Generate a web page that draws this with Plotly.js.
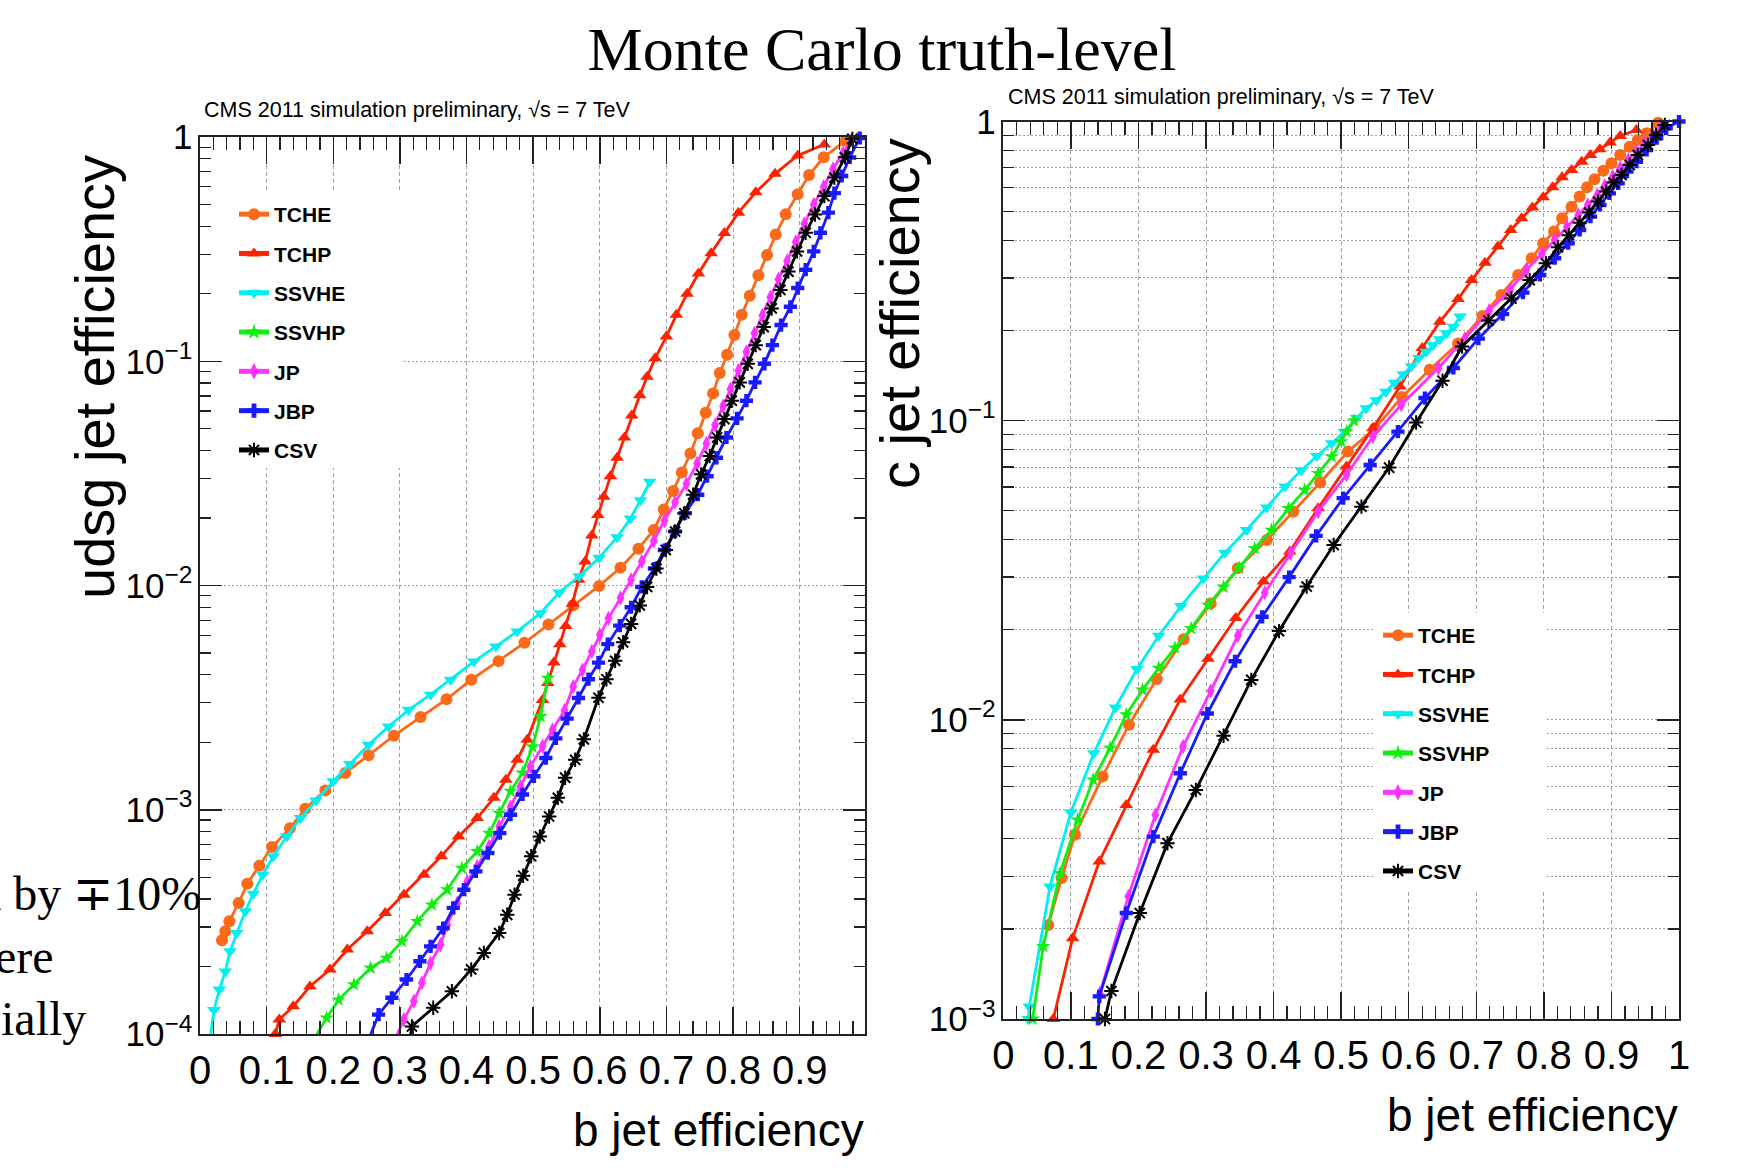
<!DOCTYPE html>
<html><head><meta charset="utf-8">
<script src="https://cdn.plot.ly/plotly-3.0.1.min.js"></script>
<style>html,body{margin:0;padding:0;background:#fff;} #chart{width:1750px;height:1172px;}</style>
</head><body><div id="chart"></div>
<script>
// ---------------- DATA ----------------
const taggers = ['TCHE','TCHP','SSVHE','SSVHP','JP','JBP','CSV'];

// udsg mistag vs b efficiency (left panel)
const udsgTCHE_b   = [0.033,0.038,0.044,0.058,0.071,0.089,0.108,0.135,0.158,0.188,0.218,0.253,0.291,0.331,0.370,0.407,0.448,0.487,0.523,0.560,0.599,0.631,0.658,0.681,0.696,0.710,0.723,0.736,0.747,0.759,0.770,0.780,0.791,0.802,0.813,0.825,0.838,0.851,0.864,0.879,0.897,0.914,0.936,0.969];
const udsgTCHE_eff = [2.62e-4,2.87e-4,3.18e-4,3.84e-4,4.68e-4,5.63e-4,6.82e-4,8.28e-4,1.01e-3,1.22e-3,1.46e-3,1.75e-3,2.14e-3,2.59e-3,3.11e-3,3.80e-3,4.60e-3,5.55e-3,6.70e-3,8.14e-3,9.96e-3,0.0120,0.0146,0.0177,0.0218,0.0264,0.0319,0.0388,0.0478,0.0589,0.0719,0.0886,0.107,0.131,0.161,0.196,0.242,0.298,0.367,0.452,0.556,0.677,0.812,0.963];

const udsgTCHP_b   = [0.113,0.119,0.140,0.165,0.195,0.221,0.251,0.278,0.306,0.336,0.362,0.388,0.416,0.441,0.459,0.476,0.491,0.514,0.522,0.531,0.540,0.549,0.559,0.568,0.578,0.588,0.597,0.606,0.616,0.626,0.637,0.648,0.660,0.671,0.683,0.700,0.715,0.731,0.748,0.767,0.787,0.808,0.834,0.863,0.897,0.937];
const udsgTCHP_eff = [1.0e-4,1.16e-4,1.33e-4,1.63e-4,1.94e-4,2.38e-4,2.87e-4,3.46e-4,4.18e-4,5.13e-4,6.20e-4,7.60e-4,9.18e-4,1.13e-3,1.36e-3,1.67e-3,2.05e-3,3.09e-3,3.67e-3,4.53e-3,5.47e-3,6.6e-3,8.3e-3,0.0106,0.0128,0.0167,0.0206,0.0249,0.0307,0.0371,0.0457,0.0573,0.0706,0.0853,0.103,0.129,0.161,0.200,0.246,0.303,0.373,0.460,0.567,0.685,0.828,0.927];

const udsgSSVHE_b   = [0.016,0.021,0.029,0.038,0.045,0.055,0.068,0.080,0.094,0.110,0.130,0.151,0.174,0.200,0.225,0.253,0.283,0.313,0.346,0.376,0.411,0.444,0.476,0.511,0.539,0.569,0.599,0.626,0.646,0.661,0.675];
const udsgSSVHE_eff = [9.93e-5,1.28e-4,1.58e-4,1.90e-4,2.34e-4,2.82e-4,3.53e-4,4.22e-4,5.13e-4,6.19e-4,7.60e-4,9.18e-4,1.10e-3,1.34e-3,1.60e-3,1.95e-3,2.35e-3,2.79e-3,3.26e-3,3.80e-3,4.58e-3,5.35e-3,6.24e-3,7.53e-3,9.31e-3,0.0110,0.0133,0.0164,0.0199,0.0240,0.0290];

const udsgSSVHP_b   = [0.175,0.190,0.208,0.231,0.256,0.280,0.303,0.326,0.348,0.371,0.393,0.416,0.434,0.449,0.466,0.484,0.499,0.511,0.522];
const udsgSSVHP_eff = [9.93e-5,1.18e-4,1.42e-4,1.66e-4,1.97e-4,2.18e-4,2.59e-4,3.18e-4,3.77e-4,4.40e-4,5.49e-4,6.52e-4,7.87e-4,9.67e-4,1.21e-3,1.46e-3,1.91e-3,2.61e-3,3.86e-3];

const udsgJP_b   = [0.296,0.306,0.321,0.333,0.346,0.361,0.371,0.386,0.401,0.416,0.434,0.449,0.466,0.481,0.496,0.514,0.529,0.547,0.560,0.574,0.588,0.600,0.613,0.631,0.647,0.663,0.681,0.697,0.713,0.730,0.746,0.760,0.773,0.785,0.796,0.808,0.820,0.832,0.844,0.856,0.868,0.881,0.894,0.907,0.921,0.936,0.950,0.965,0.978];
const udsgJP_eff = [9.93e-5,1.16e-4,1.40e-4,1.69e-4,2.07e-4,2.50e-4,3.07e-4,3.83e-4,4.79e-4,5.59e-4,6.87e-4,8.43e-4,1.03e-3,1.27e-3,1.56e-3,1.92e-3,2.27e-3,2.77e-3,3.54e-3,4.20e-3,5.08e-3,6.02e-3,7.14e-3,8.79e-3,0.0106,0.0128,0.0158,0.0195,0.0235,0.0284,0.0350,0.043,0.052,0.063,0.075,0.091,0.110,0.133,0.160,0.193,0.232,0.28,0.34,0.41,0.50,0.60,0.72,0.85,0.97];

const udsgJBP_b   = [0.256,0.268,0.288,0.310,0.330,0.346,0.365,0.380,0.396,0.414,0.432,0.450,0.466,0.484,0.501,0.519,0.534,0.551,0.568,0.583,0.598,0.612,0.630,0.647,0.663,0.682,0.697,0.713,0.728,0.747,0.761,0.775,0.790,0.806,0.820,0.833,0.847,0.859,0.872,0.886,0.897,0.909,0.921,0.931,0.943,0.952,0.963,0.975,0.990];
const udsgJBP_eff = [9.93e-5,1.22e-4,1.45e-4,1.75e-4,2.11e-4,2.46e-4,2.97e-4,3.65e-4,4.40e-4,5.31e-4,6.41e-4,7.87e-4,9.50e-4,1.17e-3,1.41e-3,1.70e-3,2.08e-3,2.55e-3,3.15e-3,3.82e-3,4.53e-3,5.48e-3,6.62e-3,8.00e-3,9.85e-3,0.0119,0.0144,0.0174,0.0210,0.0254,0.0307,0.0371,0.0457,0.0556,0.0667,0.0805,0.0974,0.118,0.145,0.175,0.212,0.256,0.309,0.374,0.460,0.562,0.67,0.81,0.99];

const udsgCSV_b   = [0.316,0.318,0.350,0.378,0.407,0.426,0.449,0.461,0.472,0.485,0.497,0.510,0.524,0.537,0.548,0.563,0.576,0.598,0.610,0.623,0.635,0.647,0.660,0.671,0.685,0.699,0.713,0.727,0.740,0.752,0.765,0.776,0.787,0.798,0.810,0.822,0.834,0.846,0.858,0.871,0.883,0.896,0.909,0.923,0.937,0.952,0.968,0.979];
const udsgCSV_eff = [9.93e-5,1.08e-4,1.31e-4,1.55e-4,1.94e-4,2.30e-4,2.82e-4,3.40e-4,4.18e-4,5.08e-4,6.20e-4,7.60e-4,9.33e-4,1.13e-3,1.39e-3,1.67e-3,2.06e-3,3.16e-3,3.82e-3,4.62e-3,5.58e-3,6.74e-3,8.15e-3,9.85e-3,0.0119,0.0144,0.0174,0.0210,0.0254,0.0313,0.0378,0.0457,0.0552,0.0667,0.0805,0.0974,0.118,0.142,0.172,0.208,0.251,0.309,0.374,0.451,0.545,0.659,0.812,0.981];

// c mistag vs b efficiency (right panel)
const cTCHE_b   = [0.0666,0.0863,0.106,0.147,0.186,0.227,0.267,0.307,0.347,0.390,0.429,0.469,0.510,0.550,0.590,0.631,0.673,0.709,0.737,0.762,0.782,0.799,0.815,0.827,0.841,0.853,0.864,0.875,0.888,0.900,0.913,0.927,0.939,0.952,0.969];
const cTCHE_eff = [0.00206,0.00296,0.00413,0.00647,0.00963,0.0137,0.0186,0.0245,0.0321,0.0399,0.0496,0.0621,0.0788,0.0943,0.120,0.148,0.181,0.224,0.263,0.307,0.349,0.392,0.429,0.475,0.519,0.561,0.603,0.641,0.685,0.725,0.773,0.824,0.867,0.913,0.99];

const cTCHP_b   = [0.074,0.1026,0.142,0.182,0.222,0.262,0.303,0.344,0.385,0.424,0.466,0.508,0.547,0.587,0.620,0.646,0.673,0.693,0.713,0.732,0.751,0.767,0.783,0.799,0.813,0.827,0.841,0.856,0.869,0.883,0.898,0.913,0.937];
const cTCHP_eff = [0.001,0.00186,0.00336,0.00519,0.00794,0.0117,0.0160,0.0219,0.0290,0.0365,0.0510,0.0703,0.0944,0.130,0.175,0.214,0.255,0.295,0.337,0.382,0.434,0.475,0.516,0.558,0.603,0.651,0.689,0.734,0.773,0.807,0.850,0.895,0.937];

const cSSVHE_b   = [0.037,0.0385,0.069,0.100,0.134,0.166,0.198,0.230,0.263,0.296,0.328,0.360,0.390,0.417,0.441,0.464,0.486,0.505,0.523,0.537,0.552,0.566,0.579,0.592,0.604,0.615,0.626,0.636,0.646,0.656,0.666,0.676];
const cSSVHE_eff = [0.00100,0.00110,0.00277,0.00490,0.00773,0.0110,0.0148,0.0191,0.0240,0.0297,0.0362,0.0431,0.0513,0.0602,0.0681,0.0762,0.0840,0.0918,0.102,0.110,0.117,0.125,0.134,0.143,0.152,0.162,0.170,0.179,0.187,0.196,0.206,0.223];

const cSSVHP_b   = [0.0434,0.0592,0.0839,0.110,0.133,0.158,0.182,0.206,0.230,0.254,0.278,0.303,0.326,0.349,0.372,0.397,0.422,0.446,0.466,0.486,0.500,0.508,0.519];
const cSSVHP_eff = [0.00100,0.00175,0.00307,0.00463,0.00630,0.00805,0.0104,0.0126,0.0149,0.0174,0.0202,0.0242,0.0278,0.0322,0.0374,0.0431,0.0509,0.0586,0.0667,0.0758,0.0851,0.0919,0.100];

const cJP_b   = [0.143,0.185,0.225,0.266,0.307,0.347,0.387,0.425,0.466,0.508,0.547,0.589,0.644,0.683,0.719,0.750,0.774,0.797,0.816,0.834,0.851,0.865,0.879,0.890,0.902,0.913,0.925,0.937,0.949,0.962,0.974];
const cJP_eff = [0.00122,0.00257,0.00481,0.00814,0.0125,0.0191,0.0266,0.0360,0.0497,0.0659,0.0885,0.113,0.150,0.188,0.233,0.274,0.319,0.361,0.402,0.445,0.487,0.526,0.568,0.609,0.654,0.698,0.744,0.793,0.846,0.902,0.962];

const cJBP_b   = [0.140,0.142,0.182,0.222,0.262,0.302,0.343,0.383,0.423,0.463,0.503,0.543,0.584,0.624,0.666,0.703,0.739,0.769,0.794,0.816,0.836,0.853,0.869,0.883,0.897,0.910,0.923,0.937,0.952,0.967,0.981,1.0];
const cJBP_eff = [0.00100,0.00119,0.00226,0.00407,0.00663,0.0105,0.0157,0.0221,0.0300,0.0412,0.0551,0.0711,0.0919,0.119,0.150,0.188,0.227,0.268,0.307,0.349,0.392,0.434,0.481,0.526,0.575,0.621,0.680,0.734,0.803,0.879,0.949,1.0];

const cCSV_b   = [0.1504,0.160,0.202,0.243,0.285,0.326,0.367,0.408,0.449,0.489,0.530,0.571,0.611,0.650,0.679,0.718,0.752,0.779,0.803,0.821,0.837,0.853,0.867,0.880,0.892,0.903,0.915,0.927,0.939,0.954,0.966,0.979];
const cCSV_eff = [0.00100,0.00124,0.00226,0.00387,0.00583,0.00885,0.0136,0.0198,0.0279,0.0384,0.0516,0.0697,0.0986,0.136,0.177,0.216,0.256,0.295,0.336,0.380,0.417,0.459,0.496,0.540,0.583,0.625,0.663,0.716,0.773,0.834,0.901,0.973];

// ---------------- STYLE ----------------
const SANS = '"Liberation Sans", Arial, Helvetica, sans-serif';
const SERIF = '"Liberation Serif", "Times New Roman", serif';
const style = {
  TCHE:  {color:'#fb6a1a', symbol:'circle', size:12},
  TCHP:  {color:'#ff2200', symbol:'triangle-up', size:12},
  SSVHE: {color:'#00f0f0', symbol:'triangle-down', size:12},
  SSVHP: {color:'#11ee11', symbol:'star', size:11},
  JP:    {color:'#ff33ff', symbol:'diamond-tall', size:11},
  JBP:   {color:'#1a1aff', symbol:'cross', size:11},
  CSV:   {color:'#000000', symbol:'asterisk-open', size:12}
};

const udsgData = {TCHE:[udsgTCHE_b,udsgTCHE_eff], TCHP:[udsgTCHP_b,udsgTCHP_eff], SSVHE:[udsgSSVHE_b,udsgSSVHE_eff], SSVHP:[udsgSSVHP_b,udsgSSVHP_eff], JP:[udsgJP_b,udsgJP_eff], JBP:[udsgJBP_b,udsgJBP_eff], CSV:[udsgCSV_b,udsgCSV_eff]};
const cData = {TCHE:[cTCHE_b,cTCHE_eff], TCHP:[cTCHP_b,cTCHP_eff], SSVHE:[cSSVHE_b,cSSVHE_eff], SSVHP:[cSSVHP_b,cSSVHP_eff], JP:[cJP_b,cJP_eff], JBP:[cJBP_b,cJBP_eff], CSV:[cCSV_b,cCSV_eff]};

function mk(name, d, xa, ya, leg, grpPrefix){
  const s = style[name];
  return {
    type:'scatter', mode:'lines+markers', name:name,
    x:d[0], y:d[1], xaxis:xa, yaxis:ya, legend:leg,
    legendgroup: grpPrefix+name, cliponaxis:false,
    line:{color:s.color, width:2.8},
    marker:{symbol:s.symbol, size:s.size, color:s.color,
            line:{color:s.color, width: name==='CSV'?2:0}}
  };
}
const traces = [];
taggers.forEach(t => traces.push(mk(t, udsgData[t], 'x', 'y', 'legend', 'u')));
taggers.forEach(t => traces.push(mk(t, cData[t], 'x2', 'y2', 'legend2', 'c')));

const W = 1750, H = 1172;
const px = v => v / W;
const py = v => 1 - v / H;

function xaxisCfg(domain, rng, anchor){
  return {
    domain: domain, range: rng, anchor: anchor, tick0:0, dtick:0.1,
    ticks:'inside', ticklen:27, tickwidth:1.5, tickcolor:'#222',
    mirror:'allticks', showline:true, linewidth:2, linecolor:'#222',
    showgrid:true, gridcolor:'#a0a0a0', gridwidth:1, griddash:'4px,3px',
    zeroline:false, ticklabelstandoff:0,
    tickfont:{family:SANS, size:40, color:'#000'},
    minor:{dtick:0.02, ticks:'inside', ticklen:13, tickwidth:1.2, tickcolor:'#222', showgrid:false}
  };
}
function yaxisCfg(domain, rng, anchor, minorGrid){
  return {
    type:'log', domain: domain, range: rng, anchor: anchor, dtick:1,
    exponentformat:'power',
    ticks:'inside', ticklen:22, tickwidth:1.5, tickcolor:'#222',
    mirror:'allticks', showline:true, linewidth:2, linecolor:'#222',
    showgrid:true, gridcolor:'#a0a0a0', gridwidth:1, griddash:'2px,2px',
    zeroline:false, ticklabelstandoff:0,
    tickfont:{family:SANS, size:28, color:'#000'},
    minor:{dtick:'D1', ticks:'inside', ticklen:11, tickwidth:1.2, tickcolor:'#222',
           showgrid:minorGrid, gridcolor:'#a0a0a0', gridwidth:1, griddash:'2px,2px'}
  };
}

const legFont = {family:SANS, size:21, color:'#000', weight:'bold'};

const layout = {
  width: W, height: H,
  margin:{l:0, r:0, t:0, b:0},
  paper_bgcolor:'#fff', plot_bgcolor:'#fff',
  title:{text:'Monte Carlo truth-level', font:{family:SERIF, size:62, color:'#000'},
         xref:'paper', yref:'container', x:px(882), xanchor:'center', y:py(48), yanchor:'middle'},
  xaxis: xaxisCfg([px(200), px(865)], [0, 0.998], 'y'),
  yaxis: yaxisCfg([py(1034), py(137)], [-4, 0], 'x', false),
  xaxis2: xaxisCfg([px(1003.3), px(1679)], [0, 1], 'y2'),
  yaxis2: yaxisCfg([py(1019), py(121.5)], [-3, 0], 'x2', true),
  legend:{x:px(234), xanchor:'left', y:py(194), yanchor:'top', bgcolor:'rgba(0,0,0,0)',
          font:legFont, traceorder:'grouped', tracegroupgap:9, itemsizing:'constant'},
  legend2:{x:px(1378), xanchor:'left', y:py(615), yanchor:'top', bgcolor:'rgba(0,0,0,0)',
          font:legFont, traceorder:'grouped', tracegroupgap:9, itemsizing:'constant'},
  shapes:[
    {type:'rect', xref:'x', yref:'y', x0:0.002, x1:0.304, y0:0.0334, y1:0.570,
     fillcolor:'#fff', line:{width:0}, layer:'between'},
    {type:'rect', xref:'x2', yref:'y2', x0:0.5486, x1:0.8017, y0:0.00272, y1:0.0228,
     fillcolor:'#fff', line:{width:0}, layer:'between'}
  ],
  annotations:[
    {text:'CMS 2011 simulation preliminary, √s = 7 TeV', xref:'paper', yref:'paper',
     x:px(202), y:py(110), xanchor:'left', yanchor:'middle', showarrow:false,
     font:{family:SANS, size:21.5, color:'#000'}},
    {text:'CMS 2011 simulation preliminary, √s = 7 TeV', xref:'paper', yref:'paper',
     x:px(1006), y:py(97), xanchor:'left', yanchor:'middle', showarrow:false,
     font:{family:SANS, size:21.5, color:'#000'}},
    {text:'udsg jet efficiency', xref:'paper', yref:'paper', textangle:-90,
     x:px(95), y:py(377), xanchor:'center', yanchor:'middle', showarrow:false,
     font:{family:SANS, size:56, color:'#000'}},
    {text:'c jet efficiency', xref:'paper', yref:'paper', textangle:-90,
     x:px(899), y:py(313), xanchor:'center', yanchor:'middle', showarrow:false,
     font:{family:SANS, size:56, color:'#000'}},
    {text:'b jet efficiency', xref:'paper', yref:'paper',
     x:px(866), y:py(1130), xanchor:'right', yanchor:'middle', showarrow:false,
     font:{family:SANS, size:46, color:'#000'}},
    {text:'b jet efficiency', xref:'paper', yref:'paper',
     x:px(1680), y:py(1115), xanchor:'right', yanchor:'middle', showarrow:false,
     font:{family:SANS, size:46, color:'#000'}},
    {text:'a by ∓10%', xref:'paper', yref:'paper',
     x:px(203), y:py(893), xanchor:'right', yanchor:'middle', showarrow:false,
     font:{family:SERIF, size:48, color:'#000'}},
    {text:'ere', xref:'paper', yref:'paper',
     x:px(56), y:py(956), xanchor:'right', yanchor:'middle', showarrow:false,
     font:{family:SERIF, size:48, color:'#000'}},
    {text:'ially', xref:'paper', yref:'paper',
     x:px(88), y:py(1018), xanchor:'right', yanchor:'middle', showarrow:false,
     font:{family:SERIF, size:48, color:'#000'}}
  ]
};

Plotly.newPlot('chart', traces, layout, {displayModeBar:false, staticPlot:true});
</script></body></html>
